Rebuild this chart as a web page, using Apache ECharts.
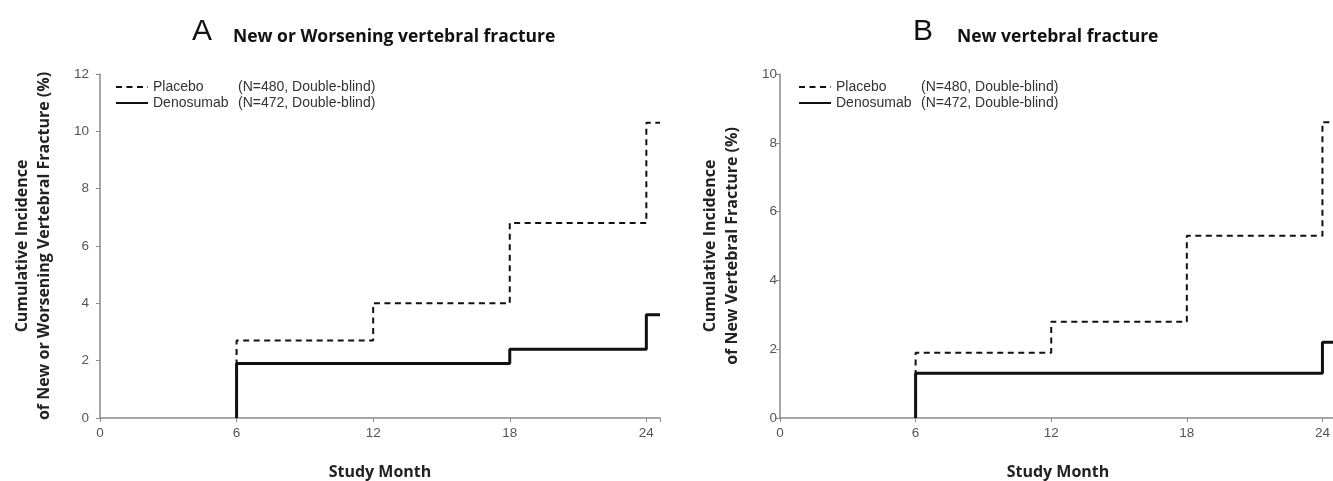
<!DOCTYPE html>
<html><head><meta charset="utf-8">
<script src="https://cdn.jsdelivr.net/npm/echarts@6/dist/echarts.min.js"></script>
<style>html,body{margin:0;padding:0;background:#fff}#c{width:1333px;height:481px}</style>
</head><body><div id="c"></div>
<script>
// ---- data ----
const months = [6, 12, 18, 24];
const followUpEnd = 24.6;
const xTicks = [0, 6, 12, 18, 24];
const placeboA = [2.7, 4.0, 6.8, 10.3];
const denosumabA = [1.9, 1.9, 2.4, 3.6];
const placeboB = [1.9, 2.8, 5.3, 8.6];
const denosumabB = [1.3, 1.3, 1.3, 2.2];
const seriesNames = ['Placebo', 'Denosumab'];
const seriesNotes = ['(N=480, Double-blind)', '(N=472, Double-blind)'];
const panelTitles = ['New or Worsening vertebral fracture', 'New vertebral fracture'];
const panelLetters = ['A', 'B'];
const yNames = ['Cumulative Incidence\nof New or Worsening Vertebral Fracture (%)', 'Cumulative Incidence\nof New Vertebral Fracture (%)'];
const yMax = [12, 10];

function steps(vals) {
  const d = [[months[0], 0]];
  months.forEach((m, i) => d.push([m, vals[i]]));
  d.push([followUpEnd, vals[vals.length - 1]]);
  return d;
}

const axisGrey = '#8a8a8a';
const labelGrey = '#555';
const boldFont = 'Open Sans';

function xAxis(gi) {
  return {
    type: 'value', gridIndex: gi, min: 0, max: followUpEnd, interval: 6,
    name: 'Study Month', nameLocation: 'middle', nameGap: 46,
    nameTextStyle: { fontFamily: boldFont, fontWeight: 'bold', fontSize: 16, color: '#222' },
    axisLine: { lineStyle: { color: axisGrey, width: 1.5 } },
    axisTick: { show: true, length: 4, lineStyle: { color: axisGrey } },
    axisLabel: { color: labelGrey, fontSize: 13.5, fontFamily: 'Liberation Sans', margin: 8,
      formatter: v => xTicks.includes(v) ? String(v) : '' },
    splitLine: { show: false }
  };
}
function yAxis(gi) {
  return {
    type: 'value', gridIndex: gi, min: 0, max: yMax[gi], interval: 2,
    name: yNames[gi], nameLocation: 'middle', nameGap: gi === 0 ? 45 : 37, nameRotate: 90,
    nameTextStyle: { fontFamily: boldFont, fontWeight: 'bold', fontSize: 16, color: '#222', lineHeight: 22 },
    axisLine: { show: true, lineStyle: { color: axisGrey, width: 1.5 } },
    axisTick: { show: true, length: 4, lineStyle: { color: axisGrey } },
    axisLabel: { color: labelGrey, fontSize: 13.5, fontFamily: 'Liberation Sans', margin: gi === 0 ? 11 : 3 },
    splitLine: { show: false }
  };
}
function legend(left) {
  return {
    left: left, top: 80, padding: 0, orient: 'vertical', itemGap: 2, itemWidth: 32, itemHeight: 10,
    data: seriesNames, selectedMode: false,
    itemStyle: { opacity: 0 },
    formatter: n => '{a|' + n + '}{b|' + seriesNotes[seriesNames.indexOf(n)] + '}',
    textStyle: { rich: {
      a: { width: 85, fontSize: 14, fontFamily: 'Liberation Sans', color: '#333' },
      b: { fontSize: 14, fontFamily: 'Liberation Sans', color: '#333' }
    } }
  };
}
function series(name, vals, gi) {
  const dashed = name === 'Placebo';
  return {
    name: name, type: 'line', xAxisIndex: gi, yAxisIndex: gi, step: 'end',
    data: steps(vals), symbol: 'none', showSymbol: false, silent: true, animation: false,
    itemStyle: { color: '#111' },
    lineStyle: dashed ? { color: '#111', width: 2, type: [6, 4.5] } : { color: '#111', width: 3 }
  };
}

const chart = echarts.init(document.getElementById('c'));
chart.setOption({
  backgroundColor: '#fff',
  animation: false,
  title: [
    { text: panelLetters[0], left: 192, top: 17, padding: 0, textStyle: { fontFamily: 'Liberation Sans', fontWeight: 'normal', fontSize: 30, color: '#111' } },
    { text: panelTitles[0], left: 233, top: 28, padding: 0, textStyle: { fontFamily: boldFont, fontWeight: 'bold', fontSize: 17.5, color: '#111' } },
    { text: panelLetters[1], left: 913, top: 17, padding: 0, textStyle: { fontFamily: 'Liberation Sans', fontWeight: 'normal', fontSize: 30, color: '#111' } },
    { text: panelTitles[1], left: 957, top: 28, padding: 0, textStyle: { fontFamily: boldFont, fontWeight: 'bold', fontSize: 17.5, color: '#111' } }
  ],
  legend: [legend(115), legend(798)],
  grid: [
    { left: 100, right: 673, top: 74, bottom: 63, containLabel: false, outerBoundsMode: 'none' },
    { left: 780, right: -3, top: 74, bottom: 63, containLabel: false, outerBoundsMode: 'none' }
  ],
  xAxis: [xAxis(0), xAxis(1)],
  yAxis: [yAxis(0), yAxis(1)],
  series: [
    series('Placebo', placeboA, 0), series('Denosumab', denosumabA, 0),
    series('Placebo', placeboB, 1), series('Denosumab', denosumabB, 1)
  ]
});
</script></body></html>
